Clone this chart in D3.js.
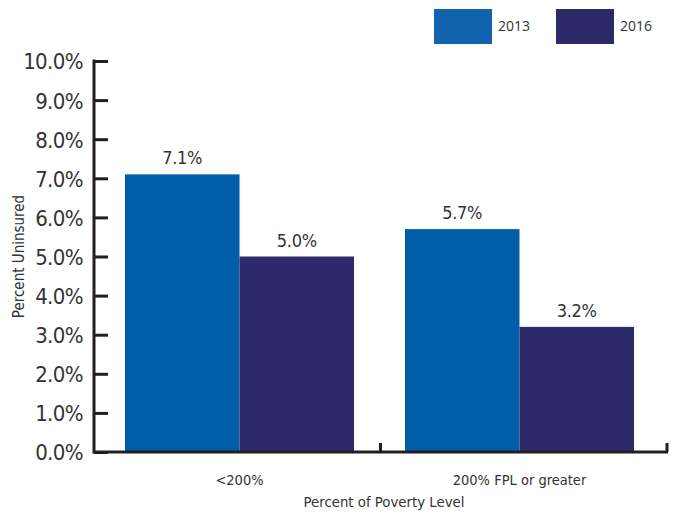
<!DOCTYPE html>
<html>
<head>
<meta charset="utf-8">
<script src="https://cdn.jsdelivr.net/npm/d3@7"></script>
<style>
  html, body { margin: 0; padding: 0; background: #fff; }
  svg { display: block; }
</style>
</head>
<body>
<svg id="chart" width="673" height="512"></svg>
<script>
// Uninsured rate by poverty level, 2013 vs 2016
const categories = ["<200%", "200% FPL or greater"];
const seriesNames = ["2013", "2016"];
const values2013 = [7.1, 5.7];
const values2016 = [5.0, 3.2];
const yTicks = [0, 1, 2, 3, 4, 5, 6, 7, 8, 9, 10];

const colors = { "2013": "#005DA8", "2016": "#2D2A6A" };
const legendColors = { "2013": "#1263AE", "2016": "#2D2A6A" };
const axisColor = "#231F20";
const textColor = "#333333";
const narrow = "'Liberation Sans Narrow', 'DejaVu Sans Condensed', 'Liberation Sans', sans-serif";

const rows = categories.map((c, i) => ({ category: c, "2013": values2013[i], "2016": values2016[i] }));

const svg = d3.select("#chart");

const plot = { left: 94, right: 667, top: 61, bottom: 452 };

const y = d3.scaleLinear().domain([0, 10]).range([plot.bottom, plot.top]);

// category frame (tick marks sit on the boundaries between categories)
const xFrame = d3.scaleBand().domain(categories).range([plot.left, plot.right]).padding(0);

// bar groups
const x0 = d3.scaleBand().domain(categories).range([125, 634]).paddingInner(0.182).paddingOuter(0);
const x1 = d3.scaleBand().domain(seriesNames).range([0, x0.bandwidth()]).padding(0);

// bars
const groups = svg.append("g").selectAll("g")
  .data(rows).join("g")
  .attr("transform", d => `translate(${x0(d.category)},0)`);

groups.selectAll("rect")
  .data(d => seriesNames.map(s => ({ key: s, value: d[s] })))
  .join("rect")
  .attr("x", d => x1(d.key))
  .attr("y", d => y(d.value))
  .attr("width", x1.bandwidth())
  .attr("height", d => y(0) - y(d.value))
  .attr("fill", d => colors[d.key]);

// value labels
groups.selectAll("text.value")
  .data(d => seriesNames.map(s => ({ key: s, value: d[s] })))
  .join("text")
  .attr("class", "value")
  .attr("x", d => x1(d.key) + x1.bandwidth() / 2)
  .attr("y", d => y(d.value) - 10)
  .attr("text-anchor", "middle")
  .attr("font-family", narrow)
  .attr("font-size", 18)
  .attr("letter-spacing", -0.3)
  .attr("fill", textColor)
  .text(d => d.value.toFixed(1) + "%");

// y axis
const yAxis = d3.axisRight(y).tickValues(yTicks).tickSize(14).tickFormat("");
const gy = svg.append("g").attr("transform", `translate(${plot.left},0)`).call(yAxis);
gy.select(".domain").remove();
gy.selectAll(".tick line").attr("stroke", axisColor).attr("stroke-width", 3);
gy.append("line")
  .attr("x1", 0).attr("x2", 0)
  .attr("y1", y(10) - 1.5).attr("y2", y(0) + 1.5)
  .attr("stroke", axisColor).attr("stroke-width", 3);

gy.selectAll(".tick").append("text")
  .attr("x", -11)
  .attr("dy", "0.36em")
  .attr("text-anchor", "end")
  .attr("font-family", narrow)
  .attr("font-size", 22)
  .attr("letter-spacing", -0.6)
  .attr("fill", textColor)
  .text(d => d.toFixed(1) + "%");

// x axis: baseline with upward boundary ticks
const boundaries = categories.map(c => xFrame(c) + xFrame.bandwidth());
const gx = svg.append("g");
gx.append("line")
  .attr("x1", plot.left).attr("x2", plot.right + 1)
  .attr("y1", y(0)).attr("y2", y(0))
  .attr("stroke", axisColor).attr("stroke-width", 3);
gx.selectAll("line.tick")
  .data(boundaries).join("line")
  .attr("class", "tick")
  .attr("x1", d => d).attr("x2", d => d)
  .attr("y1", y(0)).attr("y2", y(0) - 9)
  .attr("stroke", axisColor).attr("stroke-width", 3);

// category labels
svg.append("g").selectAll("text")
  .data(categories).join("text")
  .attr("x", d => x0(d) + x0.bandwidth() / 2)
  .attr("y", 485)
  .attr("text-anchor", "middle")
  .attr("font-family", narrow)
  .attr("font-size", 14.5)
  .attr("fill", textColor)
  .text(d => d);

// axis titles
svg.append("text")
  .attr("x", 384)
  .attr("y", 507)
  .attr("text-anchor", "middle")
  .attr("font-family", narrow)
  .attr("font-size", 14.8)
  .attr("fill", textColor)
  .text("Percent of Poverty Level");

svg.append("text")
  .attr("transform", `translate(24,${(plot.top + plot.bottom) / 2}) rotate(-90)`)
  .attr("text-anchor", "middle")
  .attr("font-family", narrow)
  .attr("font-size", 15)
  .attr("fill", textColor)
  .text("Percent Uninsured");

// legend
const legendX = d3.scalePoint().domain(seriesNames).range([434, 556]);
const legend = svg.append("g").selectAll("g")
  .data(seriesNames).join("g")
  .attr("transform", d => `translate(${legendX(d)},9)`);
legend.append("rect")
  .attr("width", 58).attr("height", 35)
  .attr("fill", d => legendColors[d]);
legend.append("text")
  .attr("x", 64).attr("y", 17.5)
  .attr("dy", "0.35em")
  .attr("font-family", "'Open Sans', 'Liberation Sans', sans-serif")
  .attr("font-size", 14)
  .attr("fill", textColor)
  .text(d => d);
</script>
</body>
</html>
